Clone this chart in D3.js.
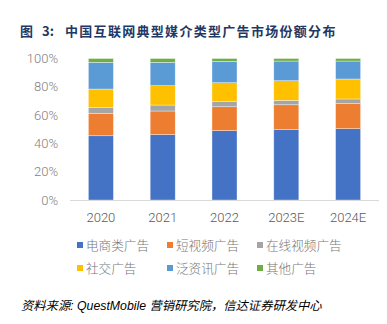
<!DOCTYPE html>
<html>
<head>
<meta charset="utf-8">
<script src="https://cdn.jsdelivr.net/npm/d3@7"></script>
<style>
  body { margin: 0; background: #fff; }
  svg { display: block; }
</style>
</head>
<body>
<div id="chart"></div>
<script>
// 年份与各类广告份额(%)
const years = ['2020', '2021', '2022', '2023E', '2024E'];
const series = ['电商类广告', '短视频广告', '在线视频广告', '社交广告', '泛资讯广告', '其他广告'];
const ecommerce = [45.4, 46.2, 49.0, 49.7, 50.4];
const shortVideo = [15.9, 16.7, 16.9, 17.6, 17.7];
const onlineVideo = [4.2, 4.2, 3.6, 3.1, 3.3];
const social = [12.9, 13.7, 13.4, 13.9, 14.1];
const news = [18.9, 16.5, 15.1, 13.9, 12.7];
const other = [2.7, 2.7, 2.0, 1.8, 1.8];
const yTicks = [0, 20, 40, 60, 80, 100];

const colors = ['#4472C4', '#ED7D31', '#A5A5A5', '#FFC000', '#5B9BD5', '#70AD47'];
const W = 387, H = 324;
const cjk = '"Noto Sans CJK SC", sans-serif';

const rows = years.map((y, i) => {
    const r = { year: y };
    [ecommerce, shortVideo, onlineVideo, social, news, other].forEach((arr, k) => r[series[k]] = arr[i]);
    return r;
});

const svg = d3.select('#chart')
    .append('svg')
    .attr('width', W)
    .attr('height', H);

// 标题：编号与正文分开放
const title = svg.append('g')
    .attr('fill', '#1F3864')
    .style('font-family', cjk)
    .style('font-size', '13px')
    .style('font-weight', 'bold');
title.append('text').attr('x', 20).attr('y', 36).text('图');
title.append('text').attr('x', 42).attr('y', 36).text('3:');
title.append('text').attr('x', 65).attr('y', 36)
    .style('letter-spacing', '1.3px')
    .text('中国互联网典型媒介类型广告市场份额分布');

const x = d3.scaleBand()
    .domain(years)
    .range([70, 379])
    .paddingInner(0.595)
    .paddingOuter(0.2975);

const y = d3.scaleLinear()
    .domain([0, 100])
    .range([200, 58.5]);

const stacked = d3.stack().keys(series)(rows);

svg.append('g')
    .selectAll('g')
    .data(stacked)
    .join('g')
    .attr('fill', (d, i) => colors[i])
    .selectAll('rect')
    .data(d => d)
    .join('rect')
    .attr('x', d => x(d.data.year))
    .attr('y', d => y(d[1]))
    .attr('width', x.bandwidth())
    .attr('height', d => y(d[0]) - y(d[1]))
    .attr('stroke', '#fff')
    .attr('stroke-opacity', 0.6)
    .attr('stroke-width', 0.6);

// 横轴线
svg.append('line')
    .attr('x1', 70).attr('x2', 379)
    .attr('y1', y(0) + 0.5).attr('y2', y(0) + 0.5)
    .attr('stroke', '#D9D9D9')
    .attr('stroke-width', 1);

// y 轴刻度
svg.append('g')
    .selectAll('text')
    .data(yTicks)
    .join('text')
    .attr('x', 58)
    .attr('y', d => y(d))
    .attr('dy', '0.36em')
    .attr('text-anchor', 'end')
    .attr('fill', '#7F7F7F')
    .style('font-family', 'Roboto, sans-serif')
    .style('font-weight', 300)
    .style('font-size', '13px')
    .text(d => d + '%');

// x 轴标签
svg.append('g')
    .selectAll('text')
    .data(years)
    .join('text')
    .attr('x', d => x(d) + x.bandwidth() / 2)
    .attr('y', 217)
    .attr('dy', '0.36em')
    .attr('text-anchor', 'middle')
    .attr('fill', '#595959')
    .style('font-family', 'Roboto, sans-serif')
    .style('font-weight', 300)
    .style('font-size', '13px')
    .text(d => d);

// 图例
const legendX = [77, 167, 257];
const legendY = [245, 268];
const legend = svg.append('g')
    .selectAll('g')
    .data(series)
    .join('g')
    .attr('transform', (d, i) => `translate(${legendX[i % 3]},${legendY[Math.floor(i / 3)]})`);

legend.append('rect')
    .attr('x', 0).attr('y', -3)
    .attr('width', 6).attr('height', 6)
    .attr('fill', (d, i) => colors[i]);

legend.append('text')
    .attr('x', 9)
    .attr('dy', '0.36em')
    .attr('fill', '#767676')
    .style('font-family', cjk)
    .style('font-weight', 300)
    .style('font-size', '12.6px')
    .text(d => d);

// 资料来源
svg.append('text')
    .attr('x', 21)
    .attr('y', 310)
    .attr('fill', '#000')
    .style('font-family', '"Liberation Sans", "Noto Sans CJK SC", sans-serif')
    .style('font-size', '12.3px')
    .style('font-style', 'italic')
    .text('资料来源: QuestMobile 营销研究院，信达证券研发中心');
</script>
</body>
</html>
